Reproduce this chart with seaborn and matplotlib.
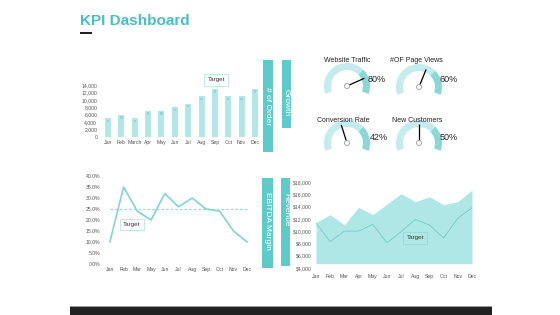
import matplotlib
matplotlib.use('Agg')
import matplotlib.pyplot as plt
import seaborn as sns
import numpy as np
import pandas as pd
from matplotlib.patches import Rectangle, Wedge, Circle

# ---------------- data ----------------
order_months = ["Jan", "Feb", "March", "Apr", "May", "Jun", "Jul", "Aug", "Sep", "Oct", "Nov", "Dec"]
order_values = [5000, 6000, 5000, 7000, 7000, 8000, 9000, 11000, 13000, 11000, 11000, 13000]
order_target = [4300, 5300, 4300, 6300, 6300, 7300, 8300, 10300, 12300, 10300, 10300, 12300]
order_ticks = [0, 2000, 4000, 6000, 8000, 10000, 12000, 14000]

ebitda_months = ["Jan", "Feb", "Mar", "May", "Jun", "Jul", "Aug", "Sep", "Oct", "Nov", "Dec"]
ebitda_values = [0.10, 0.35, 0.24, 0.20, 0.32, 0.26, 0.30, 0.25, 0.24, 0.15, 0.10]
ebitda_target = 0.25
ebitda_ticks = [0.0, 0.05, 0.10, 0.15, 0.20, 0.25, 0.30, 0.35, 0.40]

rev_months = ["Jan", "Feb", "Mar", "Apr", "May", "Jun", "Jul", "Aug", "Sep", "Oct", "Nov", "Dec"]
rev_values = [11400, 12700, 11000, 13900, 12700, 14400, 16100, 14800, 15600, 14300, 14800, 16700]
rev_target = [11300, 8300, 10000, 10000, 11100, 8100, 9900, 11900, 11000, 8900, 12100, 13800]
rev_ticks = [4000, 6000, 8000, 10000, 12000, 14000, 16000, 18000]

gauge_names = ["Website Traffic", "#OF Page Views", "Conversion Rate", "New Customers"]
gauge_values = [0.80, 0.60, 0.42, 0.50]

# ---------------- style ----------------
sns.set_theme(style="white")
plt.rcParams['font.family'] = ['Liberation Sans', 'DejaVu Sans']

W, H = 560, 315
fig = plt.figure(figsize=(5.6, 3.15), dpi=100)
fig.patch.set_facecolor('white')

TEAL = '#5ecbcb'
BAR = '#b2e7e7'
LINE = '#7fd6d3'
TICK = '#555555'
TFS = 3.7


def px_axes(x0, y0, x1, y1):
    return fig.add_axes([x0 / W, 1 - y1 / H, (x1 - x0) / W, (y1 - y0) / H])


def style_ax(ax):
    sns.despine(ax=ax, left=True, bottom=True)
    ax.tick_params(axis='both', length=0, labelsize=TFS, colors=TICK, pad=2)
    ax.set_xlabel('')
    ax.set_ylabel('')
    ax.grid(False)
    ax.patch.set_alpha(0)


def fig_rect(x0, y0, x1, y1, color):
    fig.patches.append(Rectangle((x0 / W, 1 - y1 / H), (x1 - x0) / W, (y1 - y0) / H,
                                 transform=fig.transFigure, color=color, zorder=0, lw=0))


def fig_text(x, y, s, **kw):
    fig.text(x / W, 1 - y / H, s, **kw)


# ---------------- title ----------------
fig_text(80, 21, "KPI Dashboard", fontsize=11, fontweight='bold', color='#45c1c1',
         ha='left', va='center')
fig_rect(80, 32, 92, 34, '#222222')

# ---------------- bar chart (# of order) ----------------
ax1 = px_axes(100, 85, 263, 137)
df1 = pd.DataFrame({"month": order_months, "value": order_values})
sns.barplot(data=df1, x="month", y="value", order=order_months, color=BAR,
            saturation=1, width=0.45, linewidth=0, edgecolor='none', ax=ax1)
sns.scatterplot(x=np.arange(len(order_months)), y=order_target, marker='s', s=3,
                color='#93d6d6', edgecolor='none', ax=ax1, legend=False)
ax1.set_xlim(-0.6, 11.6)
ax1.set_ylim(0, 14000)
ax1.set_yticks(order_ticks)
ax1.set_yticklabels([f"{v:,}" for v in order_ticks])
style_ax(ax1)
ax1.text(8.1, 15350, "Target", fontsize=4.5, ha='center', va='center', color='#333',
         bbox=dict(boxstyle='square,pad=0.5', fc='white', ec='#a8dede', lw=0.5), clip_on=False)

# ---------------- EBITDA line ----------------
ax2 = px_axes(103, 176, 254, 264)
xi = np.arange(len(ebitda_months))
ax2.plot([0, len(xi) - 1], [0, 0], ls=':', color='#cccccc', lw=0.6)
ax2.plot([0, len(xi) - 1], [ebitda_target, ebitda_target], ls=(0, (2.2, 1.5)),
         color='#9adcd8', lw=0.9)
sns.lineplot(x=xi, y=ebitda_values, color=LINE, lw=1.2, ax=ax2)
ax2.set_xlim(-0.5, 10.5)
ax2.set_ylim(0, 0.40)
ax2.set_xticks(xi)
ax2.set_xticklabels(ebitda_months)
ax2.set_yticks(ebitda_ticks)
ax2.set_yticklabels([f"{v * 100:.1f}%" for v in ebitda_ticks])
style_ax(ax2)
ax2.text(1.6, 0.18, "Target", fontsize=4.5, ha='center', va='center', color='#333',
         bbox=dict(boxstyle='square,pad=0.5', fc='white', ec='#a8dede', lw=0.5))

# ---------------- Revenue area ----------------
ax3 = px_axes(316, 182, 472, 268)
xr = np.arange(len(rev_months))
ax3.axhline(4000, color='#e6e6e6', lw=0.5)
ax3.fill_between(xr, 4700, rev_values, color='#afe6e6', lw=0, zorder=1)
sns.lineplot(x=xr, y=rev_target, color='#74cccc', lw=0.6, ax=ax3, zorder=2)
ax3.set_xlim(0, 11)
ax3.set_ylim(4000, 18000)
ax3.set_xticks(xr)
ax3.set_xticklabels(rev_months)
ax3.set_yticks(rev_ticks)
ax3.set_yticklabels([f"${v:,}" for v in rev_ticks])
style_ax(ax3)
ax3.tick_params(axis='y', pad=3)
ax3.tick_params(axis='x', pad=4)
ax3.text(7.0, 8900, "Target", fontsize=4.5, ha='center', va='center', color='#333',
         bbox=dict(boxstyle='square,pad=0.5', fc='#afe6e6', ec='#94d8d8', lw=0.5), zorder=3)

# ---------------- vertical label bars ----------------
fig_rect(263, 60, 273, 152, TEAL)
fig_text(268, 106, "# of Order", rotation=-90, color='white', fontsize=6,
         ha='center', va='center')
fig_rect(282, 60, 291, 128, TEAL)
fig_text(286.5, 103, "Growth", rotation=-90, color='white', fontsize=6,
         ha='center', va='center')
fig_rect(262, 178, 273, 268, TEAL)
fig_text(267.5, 221, "EBITDA Margin", rotation=-90, color='white', fontsize=6,
         ha='center', va='center')
fig_rect(281, 178, 290, 266, TEAL)
fig_text(285.5, 210, "Revenue", rotation=-90, color='white', fontsize=6,
         ha='center', va='center')

# ---------------- gauges ----------------
axg = fig.add_axes([0, 0, 1, 1])
axg.set_xlim(0, W)
axg.set_ylim(0, H)
axg.axis('off')
axg.patch.set_alpha(0)

centers = [(347, 86), (419, 87), (347, 143), (419, 143)]
title_pos = [(347, 60), (416, 60), (343, 120), (417, 120)]
pct_pos = [(368, 79), (440, 79), (370, 137), (440, 137)]
T0, SPAN = 200, 220
R, RW = 23, 7
for (cx, cy), (tx, ty), (px, py), name, v in zip(centers, title_pos, pct_pos,
                                                gauge_names, gauge_values):
    yc = H - cy
    axg.add_patch(Wedge((cx, yc), R, 45, T0, width=RW, color='#c4ecec', lw=0))
    axg.add_patch(Wedge((cx, yc), R, T0 - SPAN, 45, width=RW, color='#88d8d8', lw=0))
    ang = np.deg2rad(T0 - v * SPAN)
    r0, r1 = 2.6, 19
    axg.plot([cx + r0 * np.cos(ang), cx + r1 * np.cos(ang)],
             [yc + r0 * np.sin(ang), yc + r1 * np.sin(ang)], color='black', lw=0.9,
             solid_capstyle='butt')
    axg.add_patch(Circle((cx, yc), 2.5, fc='white', ec='#888888', lw=0.5, zorder=5))
    axg.text(tx, H - ty, name, fontsize=5, ha='center', va='center', color='#222')
    axg.text(px, H - py, f"{int(round(v * 100))}%", fontsize=6.5, ha='left',
             va='center', color='#222')

# ---------------- bottom bar ----------------
fig_rect(70, 306, 492, 315, '#222222')
fig_rect(70, 305.5, 492, 306.5, '#9a9a9a')

fig.savefig('out.png', dpi=100, facecolor='white')
